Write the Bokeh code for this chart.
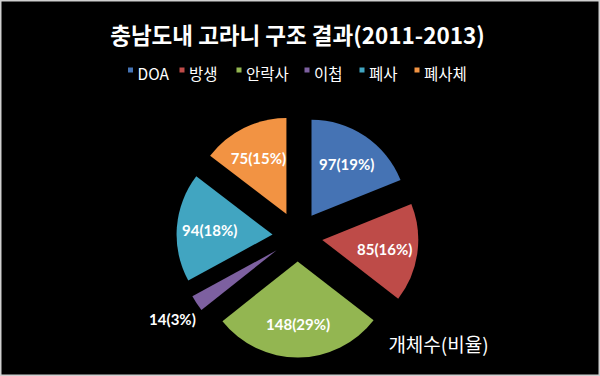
import numpy as np
from bokeh.plotting import figure
from bokeh.models import ColumnDataSource, Range1d
from bokeh.core.properties import value
from bokeh.embed import file_html
from bokeh.resources import INLINE

# ---- data ----
categories = ["DOA", "방생", "안락사", "이첩", "폐사", "폐사체"]
counts = [97, 85, 148, 14, 94, 75]
percents = [19, 16, 29, 3, 18, 15]
colors = ["#4573B4", "#BE4B48", "#93B651", "#7D60A0", "#41A5C1", "#F29343"]
title_text = "충남도내 고라니 구조 결과(2011-2013)"
series_name = "개체수(비율)"

# ---- layout constants ----
W, H = 600, 376
CX, CY = 297, H - 236
R = 96
EXPLODE = 25
LABEL_IN = 88
LABEL_OUT = 150

total = float(sum(counts))
vals = np.array(counts, dtype=float)
cum_end = np.cumsum(vals) / total * 2 * np.pi
cum_start = cum_end - vals / total * 2 * np.pi
mid = (cum_start + cum_end) / 2

start_angle = np.pi / 2 - cum_start
end_angle = np.pi / 2 - cum_end
wx = CX + EXPLODE * np.sin(mid)
wy = CY + EXPLODE * np.cos(mid)

label_dist = np.array([LABEL_OUT if c < 20 else LABEL_IN for c in counts], dtype=float)
lx = CX + label_dist * np.sin(mid)
ly = CY + label_dist * np.cos(mid)
labels = [f"{c}({p}%)" for c, p in zip(counts, percents)]

src = ColumnDataSource(dict(x=wx, y=wy, start=start_angle, end=end_angle,
                            color=colors, lx=lx, ly=ly, label=labels, cat=categories))

p = figure(width=W, height=H, output_backend="svg", toolbar_location=None,
           x_range=Range1d(0, W), y_range=Range1d(0, H), min_border=0)
p.axis.visible = False
p.grid.visible = False
p.background_fill_color = "black"
p.border_fill_color = "black"
p.outline_line_color = "#cfcfcf"
p.outline_line_width = 2

p.wedge(x="x", y="y", radius=R, start_angle="start", end_angle="end",
        direction="clock", fill_color="color", line_color=None, source=src)

p.text(x="lx", y="ly", text="label", source=src, text_color="white",
       text_font=value("Lato"), text_font_style="bold", text_font_size="15px",
       text_align="center", text_baseline="middle")

# title
p.text(x=[W / 2 - 3], y=[H - 33], text=[title_text], text_color="white",
       text_font=value("Noto Sans CJK KR"), text_font_style="bold",
       text_font_size="22.5px", text_align="center", text_baseline="middle")

# legend
leg_sq_x = [130, 181.5, 238.5, 306.5, 361.5, 416.5]
leg_src = ColumnDataSource(dict(sx=leg_sq_x, sy=[H - 69.5] * 6,
                                tx=[x + 7 for x in leg_sq_x], ty=[H - 72.5] * 6,
                                color=colors, cat=categories))
p.scatter(x="sx", y="sy", marker="square", size=5, fill_color="color",
          line_color=None, source=leg_src)
p.text(x="tx", y="ty", text="cat", source=leg_src, text_color="white",
       text_font=value("Noto Sans CJK KR"), text_font_size="15.5px",
       text_align="left", text_baseline="middle")

# series name
p.text(x=[438], y=[H - 343], text=[series_name], text_color="white",
       text_font=value("Noto Sans CJK KR"), text_font_size="19px",
       text_align="center", text_baseline="middle")

open("out.html", "w").write(file_html(p, INLINE))
